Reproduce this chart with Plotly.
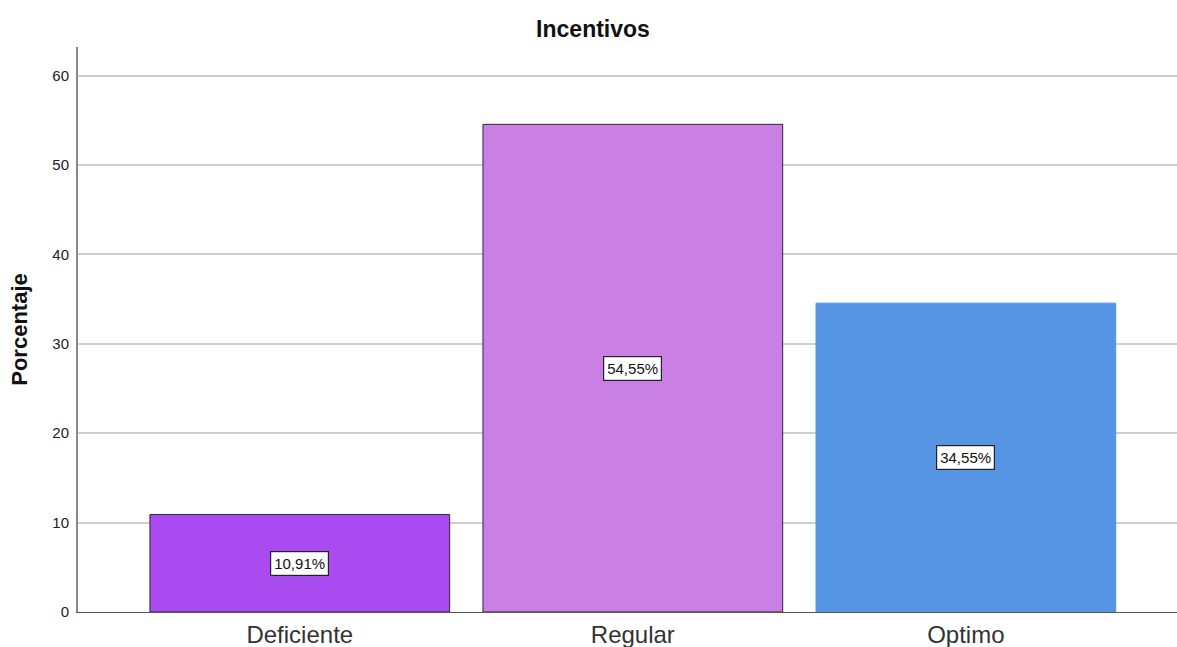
import plotly.graph_objects as go

categorias = ["Deficiente", "Regular", "Optimo"]
porcentajes = [10.91, 54.55, 34.55]
colores = ["#A94BF0", "#CA7FE5", "#5595E3"]
bordes = ["#2b2b2b", "#2b2b2b", "#5595E3"]
y_ticks = [0, 10, 20, 30, 40, 50, 60]

posiciones = list(range(len(categorias)))
fuente = "Liberation Sans, Arial, sans-serif"

fig = go.Figure()
fig.add_trace(go.Bar(
    x=posiciones,
    y=porcentajes,
    width=0.9,
    marker=dict(color=colores, line=dict(color=bordes, width=1)),
    hoverinfo="skip",
))

# Value labels in white boxes at mid-height of each bar
for xi, v in zip(posiciones, porcentajes):
    fig.add_annotation(
        x=xi, y=v / 2, xref="x", yref="y",
        text=f"{v:.2f}".replace(".", ",") + "%",
        showarrow=False,
        font=dict(family=fuente, size=15, color="#111111"),
        bgcolor="white", bordercolor="#222222", borderwidth=1.2, borderpad=3,
    )

fig.update_layout(
    width=1177, height=647,
    margin=dict(l=78, r=0, t=47, b=35),
    paper_bgcolor="white", plot_bgcolor="white",
    showlegend=False,
    title=dict(
        text="<b>Incentivos</b>", x=593 / 1177, xanchor="center",
        y=1 - 29 / 647, yanchor="middle",
        font=dict(family=fuente, size=23, color="#111111"),
    ),
    font=dict(family=fuente),
)

fig.update_xaxes(
    range=[-0.666, 2.634],
    tickvals=posiciones, ticktext=categorias,
    tickfont=dict(size=24, color="#333333"),
    showgrid=False, zeroline=False,
    showline=True, linecolor="#555555", linewidth=1,
    ticks="outside", ticklen=1, tickcolor="white",
    automargin=False,
)

fig.update_yaxes(
    range=[0, 63.2],
    tickvals=y_ticks,
    tickfont=dict(size=15, color="#222222"),
    showgrid=True, gridcolor="#cfcfcf", gridwidth=1.5,
    zeroline=False,
    showline=True, linecolor="#888888", linewidth=2,
    ticks="outside", ticklen=4, tickcolor="white",
    title=dict(text="<b>Porcentaje</b>", font=dict(size=22, color="#111111"), standoff=19),
    automargin=False,
)

fig.write_html("out.html")
